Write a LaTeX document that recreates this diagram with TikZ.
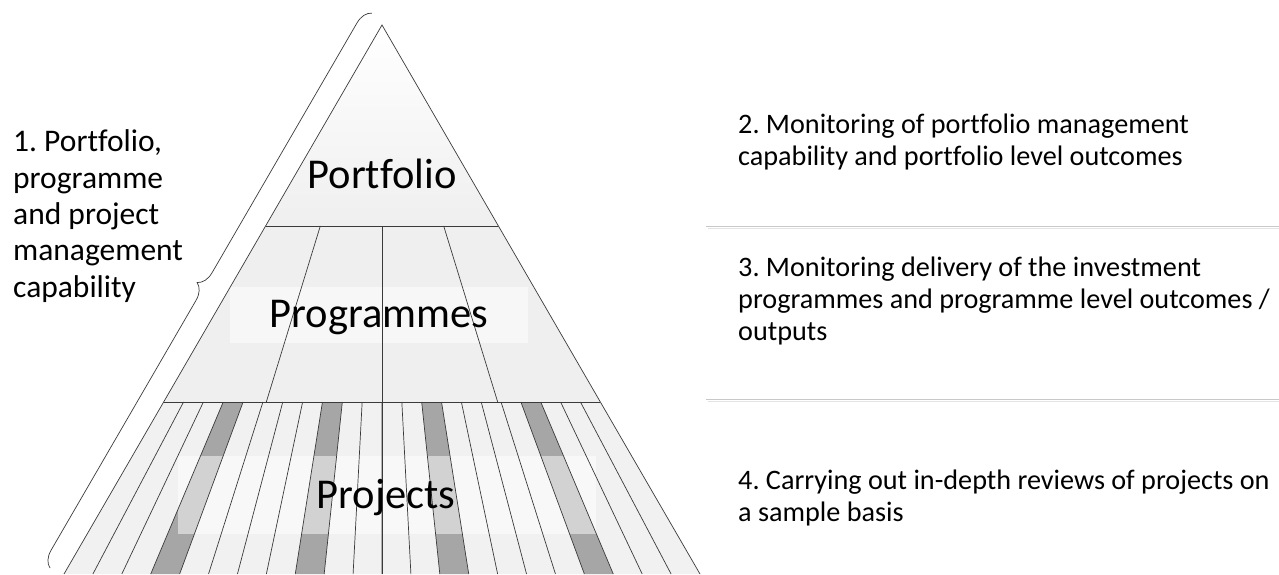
\documentclass[tikz,border=0pt]{standalone}
\usepackage{fontspec}
\setmainfont{Carlito}[Ligatures=CommonOff]
\usepackage{tikz}
\usetikzlibrary{calc,decorations.pathreplacing}
\definecolor{bandgray}{HTML}{EFEFEF}
\definecolor{stripdark}{HTML}{A6A6A6}
\definecolor{edgegray}{HTML}{3A3A3A}
\definecolor{rulegray}{HTML}{C8C8C8}
\frenchspacing

\begin{document}
\begin{tikzpicture}[x=1pt, y=-1pt,
            edge/.style = {draw=edgegray, line width=0.7pt},
            level label/.style = {anchor=base, inner sep=0pt,
                                font=\fontsize{42.5}{50}\selectfont},
            side text/.style = {anchor=base west, align=left, inner sep=0pt},
            label veil/.style = {fill=white, fill opacity=0.5}]
    \useasboundingbox (0,0) rectangle (1279,574);
    % corners of the pyramid
    \coordinate (apex) at (382,25);
    \coordinate (pfl) at (265.6,226);
    \coordinate (pfr) at (498.4,226);
    \coordinate (pgl) at (163.7,402);
    \coordinate (pgr) at (600.3,402);
    \coordinate (bl) at (64,574);
    \coordinate (br) at (700,574);
    % bands
    \shade[top color=white, bottom color=bandgray] (apex) -- (pfr) -- (pfl) -- cycle;
    \fill[bandgray] (pfl) -- (pfr) -- (pgr) -- (pgl) -- cycle;
    \fill[bandgray!85!white] (pgl) -- (pgr) -- (br) -- (bl) -- cycle;
    \foreach \i [evaluate=\i as \a using \i/22,
                 evaluate=\i as \b using (\i+1)/22] in {3,8,13,18}
        \fill[stripdark] ($(pgl)!\a!(pgr)$) -- ($(pgl)!\b!(pgr)$)
            -- ($(bl)!\b!(br)$) -- ($(bl)!\a!(br)$) -- cycle;
    \fill[label veil] (230,287) rectangle (528,343);
    \fill[label veil] (178,456) rectangle (596,534);
    % outlines and dividers
    \draw[edge] (bl) -- (apex) -- (br);
    \draw[edge] (pfl) -- (pfr);
    \draw[edge] (pgl) -- (pgr);
    \foreach \f in {0.235,0.765}
        \draw[edge] ($(pfl)!\f!(pfr)$) -- ($(pgl)!\f!(pgr)$);
    \draw[edge] ($(pfl)!0.5!(pfr)$) -- ($(bl)!0.5!(br)$);
    \foreach \i [evaluate=\i as \a using \i/22] in {1,...,21}
        \draw[edge] ($(pgl)!\a!(pgr)$) -- ($(bl)!\a!(br)$);
    % level names
    \node[level label] (portfolio) at (382,188) {Portfolio};
    \node[level label] (programmes) at (379,327) {Programmes};
    \node[level label] (projects) at (386,508) {Projects};
    % brace along the left side
    \coordinate (brace low) at (50,568);
    \coordinate (brace high) at (372,13);
    \draw[edge, decorate, decoration={brace, amplitude=16pt}] (brace low) -- (brace high);
    \node[side text, font=\fontsize{31.5}{36.3}\selectfont] (capability) at (13,297)
        {1. Portfolio,\\ programme\\ and project\\ management\\ capability};
    % right hand notes
    \draw[rulegray, line width=1.6pt] (706,226.5) -- (1279,226.5);
    \draw[rulegray!50!white, line width=0.8pt] (708,228.5) -- (1279,228.5);
    \draw[rulegray, line width=1.6pt] (706,399.5) -- (1279,399.5);
    \draw[rulegray!50!white, line width=0.8pt] (708,401.5) -- (1279,401.5);
    \node[side text, font=\fontsize{28.2}{32}\selectfont] (portfolio note) at (738,165)
        {2. Monitoring of portfolio management\\ capability and portfolio level outcomes};
    \node[side text, font=\fontsize{28.2}{32}\selectfont] (programme note) at (738,340)
        {3. Monitoring delivery of the investment\\ programmes and programme level outcomes /\\ outputs};
    \node[side text, font=\fontsize{28.2}{32}\selectfont] (project note) at (738,521)
        {4. Carrying out in-depth reviews of projects on\\ a sample basis};
\end{tikzpicture}
\end{document}
